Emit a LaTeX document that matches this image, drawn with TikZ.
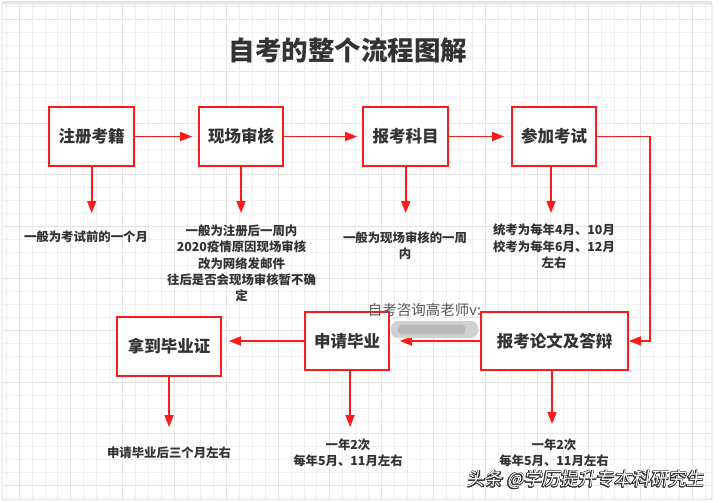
\documentclass[tikz,border=0pt]{standalone}
\usepackage{fontspec}
\setmainfont{Noto Sans CJK SC}
\newfontfamily\wmfont[FakeSlant=0.15]{Noto Sans CJK SC}
\usepackage{contour}
\contourlength{0.45pt}
\usetikzlibrary{arrows.meta}
\definecolor{txt}{HTML}{333333}
\definecolor{boxred}{HTML}{FF1A1A}
\definecolor{gridminor}{HTML}{EFEFEF}
\definecolor{gridmajor}{HTML}{E3E3E3}
\tikzset{
  stepbox/.style={draw=boxred, line width=1.7pt, fill=white, text=txt,
    font=\fontsize{16.5}{20}\selectfont\bfseries, inner sep=0pt},
  arr/.style={draw=boxred, line width=1.7pt, -{Triangle[length=12pt,width=9pt]}},
  note/.style={text=txt, align=center, inner sep=0pt,
    font=\fontsize{12.4}{16.3}\selectfont\bfseries},
}
\begin{document}
\begin{tikzpicture}[x=1pt,y=-1pt]
\useasboundingbox (0,0) rectangle (720,503);
\fill[white] (0,0) rectangle (720,503);
% grid
\begin{scope}
\clip (3,5) rectangle (711,499);
\foreach \i in {0,...,55} {
  \pgfmathsetmacro{\xx}{6+12.95*\i}
  \pgfmathsetmacro{\yy}{6.5+12.95*\i}
  \pgfmathtruncatemacro{\mm}{mod(\i,4)}
  \ifnum\mm=1
    \draw[gridmajor, line width=0.8pt] (\xx,0) -- (\xx,503);
    \draw[gridmajor, line width=0.8pt] (0,\yy) -- (720,\yy);
  \else
    \draw[gridminor, line width=0.7pt] (\xx,0) -- (\xx,503);
    \draw[gridminor, line width=0.7pt] (0,\yy) -- (720,\yy);
  \fi
}
\end{scope}
% frame
\fill[black!8] (2,1) rectangle (712,5);
\draw[black!15, line width=0.8pt, rounded corners=2pt] (2,2) rectangle (712,500);

% title
\node[text=txt, font=\fontsize{26.5}{30}\selectfont\bfseries] (title) at (348,50) {自考的整个流程图解};

% boxes
\node[stepbox, minimum width=85pt, minimum height=59pt] (A) at (91.5,136.5) {注册考籍};
\node[stepbox, minimum width=84pt, minimum height=59pt] (B) at (241,136.5) {现场审核};
\node[stepbox, minimum width=85pt, minimum height=59pt] (C) at (405.5,136.5) {报考科目};
\node[stepbox, minimum width=84pt, minimum height=59pt] (D) at (554,136.5) {参加考试};
\node[stepbox, minimum width=147pt, minimum height=58pt] (E) at (554.5,341) {报考论文及答辩};
\node[stepbox, minimum width=84pt, minimum height=58pt] (F) at (347,341) {申请毕业};
\node[stepbox, minimum width=104pt, minimum height=59pt] (G) at (169,346.5) {拿到毕业证};

% horizontal flow
\draw[arr, shorten >=6pt] (A) -- (B);
\draw[arr, shorten >=5pt] (B) -- (C);
\draw[arr, shorten >=7pt] (C) -- (D);
\coordinate (turn) at (650,136.5);
\draw[arr] (D.east) -- (turn) -- (turn |- E.east) -- (E.east);
\draw[arr, shorten >=10pt] (E.west) -- (F.east);
\draw[arr, shorten >=7pt] (F.west) -- (G.east |- F.west);

% down arrows
\coordinate (ta) at (91.7,213);
\coordinate (tb) at (241,213);
\coordinate (tc) at (405.7,213);
\coordinate (td) at (551,213);
\coordinate (te) at (552,424);
\coordinate (tf) at (350,427);
\coordinate (tg) at (169,427);
\draw[arr] (A.south -| ta) -- (ta);
\draw[arr] (B.south -| tb) -- (tb);
\draw[arr] (C.south -| tc) -- (tc);
\draw[arr] (D.south -| td) -- (td);
\draw[arr] (E.south -| te) -- (te);
\draw[arr] (F.south -| tf) -- (tf);
\draw[arr] (G.south -| tg) -- (tg);

% notes
\node[note] (na) at (86,237) {一般为考试前的一个月};
\node[note] (nb) at (241.5,263.4) {一般为注册后一周内\\2020疫情原因现场审核\\改为网络发邮件\\往后是否会现场审核暂不确\\定};
\node[note] (nc) at (405,245.5) {一般为现场审核的一周\\内};
\node[note] (nd) at (554,246.5) {统考为每年4月、10月\\校考为每年6月、12月\\左右};
\node[note] (ng) at (169,453) {申请毕业后三个月左右};
\node[note] (nf) at (348,453) {一年2次\\每年5月、11月左右};
\node[note] (ne) at (554,453) {一年2次\\每年5月、11月左右};

% contact text and blurred blob
\node[text=black!65, font=\fontsize{14.5}{16}\selectfont, inner sep=0pt] (contact) at (424.5,310) {自考咨询高老师v:};
\fill[black!18, rounded corners=7pt] (391,321) rectangle (478,338);
\fill[black!28, rounded corners=3pt] (398,325) rectangle (465,334);

% watermark
\node[font=\wmfont\fontsize{18}{21}\selectfont, inner sep=0pt] (wm) at (585.5,480) {\contour{black!80}{\color{white}头条 @学历提升专本科研究生}};
\end{tikzpicture}
\end{document}
